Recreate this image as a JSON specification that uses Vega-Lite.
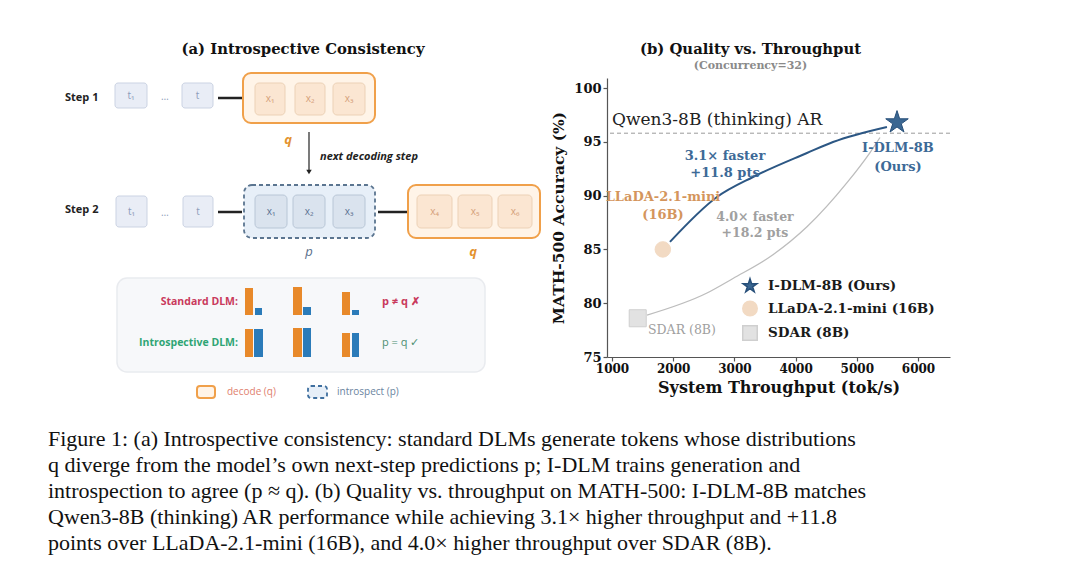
{
  "$schema": "https://vega.github.io/schema/vega-lite/v6.json",
  "background": "white",
  "padding": {"left": 30, "top": 42, "right": 20, "bottom": 10},
  "spacing": 27,
  "config": {
    "view": {"stroke": null},
    "axis": {"labelFont": "DejaVu Serif", "labelFontWeight": "bold", "labelColor": "#111", "labelFontSize": 13, "titleFont": "DejaVu Serif", "titleFontWeight": "bold", "titleFontSize": 15.5, "titleColor": "#111", "domainColor": "#555", "tickColor": "#555", "domainWidth": 1.2, "tickWidth": 1.2, "tickSize": 4, "grid": false, "labelPadding": 2},
    "axisX": {"labelFontSize": 12, "titlePadding": 5, "titleFontSize": 16},
    "axisY": {"titlePadding": 7}
  },
  "vconcat": [
    {
      "bounds": "flush",
      "spacing": 67,
      "hconcat": [
        {
          "width": 510,
          "height": 279,
          "encoding": {
            "x": {"field": "x", "type": "quantitative", "scale": {"domain": [0, 510], "nice": false, "zero": false}, "axis": null},
            "y": {"field": "y", "type": "quantitative", "scale": {"domain": [0, 279], "nice": false, "zero": false, "reverse": true}, "axis": null}
          },
          "layer": [
            {"data": {"values": [{"x": 87, "x2": 455, "y": 200, "y2": 294}]},
             "mark": {"type": "rect", "fill": "#f7f8fa", "stroke": "#e9ebef", "strokeWidth": 1.5, "cornerRadius": 10},
             "encoding": {"x2": {"field": "x2"}, "y2": {"field": "y2"}}},
            {"data": {"values": [{"x": 85, "x2": 117, "y": 5, "y2": 30}, {"x": 152, "x2": 183, "y": 5, "y2": 30}, {"x": 86, "x2": 117, "y": 118, "y2": 149}, {"x": 153, "x2": 183, "y": 118, "y2": 149}]},
             "mark": {"type": "rect", "fill": "#e9edf6", "stroke": "#cbd3e3", "cornerRadius": 3},
             "encoding": {"x2": {"field": "x2"}, "y2": {"field": "y2"}}},
            {"data": {"values": [{"x": 213, "x2": 345, "y": -5, "y2": 45}, {"x": 378, "x2": 510, "y": 107, "y2": 160}]},
             "mark": {"type": "rect", "fill": "#fff4e8", "stroke": "#f0a04a", "strokeWidth": 2, "cornerRadius": 8},
             "encoding": {"x2": {"field": "x2"}, "y2": {"field": "y2"}}},
            {"data": {"values": [{"x": 167, "x2": 185, "y": 308, "y2": 320}]},
             "mark": {"type": "rect", "fill": "#fff4e8", "stroke": "#f0a04a", "strokeWidth": 2, "cornerRadius": 3},
             "encoding": {"x2": {"field": "x2"}, "y2": {"field": "y2"}}},
            {"data": {"values": [{"x": 214, "x2": 345, "y": 107, "y2": 160}]},
             "mark": {"type": "rect", "fill": "#e7eff8", "stroke": "#5b7590", "strokeWidth": 1.8, "strokeDash": [4, 3], "cornerRadius": 8},
             "encoding": {"x2": {"field": "x2"}, "y2": {"field": "y2"}}},
            {"data": {"values": [{"x": 278, "x2": 297, "y": 308, "y2": 320}]},
             "mark": {"type": "rect", "fill": "#e7eff8", "stroke": "#3f6f9f", "strokeWidth": 1.8, "strokeDash": [4, 3], "cornerRadius": 3},
             "encoding": {"x2": {"field": "x2"}, "y2": {"field": "y2"}}},
            {"data": {"values": [{"x": 225, "x2": 255, "y": 5, "y2": 37}, {"x": 265, "x2": 295, "y": 5, "y2": 37}, {"x": 303, "x2": 335, "y": 5, "y2": 37}, {"x": 387, "x2": 422, "y": 117, "y2": 150}, {"x": 428, "x2": 462, "y": 117, "y2": 150}, {"x": 468, "x2": 502, "y": 117, "y2": 150}]},
             "mark": {"type": "rect", "fill": "#fbe6d2", "stroke": "#ecd1b6", "cornerRadius": 4},
             "encoding": {"x2": {"field": "x2"}, "y2": {"field": "y2"}}},
            {"data": {"values": [{"x": 225, "x2": 257, "y": 117, "y2": 150}, {"x": 263, "x2": 295, "y": 117, "y2": 150}, {"x": 303, "x2": 335, "y": 117, "y2": 150}]},
             "mark": {"type": "rect", "fill": "#dae3ee", "stroke": "#b8c6d6", "cornerRadius": 4},
             "encoding": {"x2": {"field": "x2"}, "y2": {"field": "y2"}}},
            {"data": {"values": [{"x": 188, "x2": 212, "y": 20}, {"x": 188, "x2": 212, "y": 134}, {"x": 348, "x2": 377, "y": 134}]},
             "mark": {"type": "rule", "color": "#222", "strokeWidth": 2.5},
             "encoding": {"x2": {"field": "x2"}}},
            {"data": {"values": [{"x": 279, "y": 54, "y2": 92}]},
             "mark": {"type": "rule", "color": "#222", "strokeWidth": 1.2},
             "encoding": {"y2": {"field": "y2"}}},
            {"data": {"values": [{"x": 279, "y": 94}]},
             "mark": {"type": "point", "shape": "triangle-down", "filled": true, "color": "#222", "size": 30, "opacity": 1}},
            {"data": {"values": [{"x": 215, "x2": 223, "y": 210, "y2": 237}, {"x": 263, "x2": 272, "y": 209, "y2": 237}, {"x": 312, "x2": 320, "y": 214, "y2": 237}, {"x": 215, "x2": 223, "y": 251, "y2": 279}, {"x": 263, "x2": 272, "y": 250, "y2": 279}, {"x": 312, "x2": 320, "y": 255, "y2": 279}]},
             "mark": {"type": "rect", "fill": "#e8892a"},
             "encoding": {"x2": {"field": "x2"}, "y2": {"field": "y2"}}},
            {"data": {"values": [{"x": 225, "x2": 232, "y": 230, "y2": 237}, {"x": 273, "x2": 281, "y": 229, "y2": 237}, {"x": 322, "x2": 329, "y": 232, "y2": 237}, {"x": 224, "x2": 233, "y": 251, "y2": 279}, {"x": 273, "x2": 281, "y": 250, "y2": 279}, {"x": 322, "x2": 329, "y": 255, "y2": 279}]},
             "mark": {"type": "rect", "fill": "#2b7bb9"},
             "encoding": {"x2": {"field": "x2"}, "y2": {"field": "y2"}}},
            {"data": {"values": [{"x": 35, "y": 20, "label": "Step 1"}, {"x": 35, "y": 132, "label": "Step 2"}]},
             "mark": {"type": "text", "align": "left", "baseline": "middle", "font": "Open Sans", "fontWeight": "bold", "fontSize": 11, "color": "#222"},
             "encoding": {"text": {"field": "label"}}},
            {"data": {"values": [{"x": 101, "y": 17.5, "label": "t₁"}, {"x": 135, "y": 19, "label": "…"}, {"x": 167.5, "y": 17.5, "label": "t"}, {"x": 101.5, "y": 133.5, "label": "t₁"}, {"x": 135, "y": 135, "label": "…"}, {"x": 168, "y": 133.5, "label": "t"}]},
             "mark": {"type": "text", "align": "center", "baseline": "middle", "font": "Open Sans", "fontSize": 10, "color": "#8d9cba"},
             "encoding": {"text": {"field": "label"}}},
            {"data": {"values": [{"x": 240, "y": 21, "label": "x₁"}, {"x": 280, "y": 21, "label": "x₂"}, {"x": 319, "y": 21, "label": "x₃"}, {"x": 404.5, "y": 133.5, "label": "x₄"}, {"x": 445, "y": 133.5, "label": "x₅"}, {"x": 485, "y": 133.5, "label": "x₆"}]},
             "mark": {"type": "text", "align": "center", "baseline": "middle", "font": "Open Sans", "fontSize": 10, "color": "#d5a07a"},
             "encoding": {"text": {"field": "label"}}},
            {"data": {"values": [{"x": 241, "y": 133.5, "label": "x₁"}, {"x": 279, "y": 133.5, "label": "x₂"}, {"x": 319, "y": 133.5, "label": "x₃"}]},
             "mark": {"type": "text", "align": "center", "baseline": "middle", "font": "Open Sans", "fontSize": 10, "color": "#5d7192"},
             "encoding": {"text": {"field": "label"}}},
            {"data": {"values": [{"x": 258, "y": 62, "label": "q"}, {"x": 443, "y": 174, "label": "q"}]},
             "mark": {"type": "text", "align": "center", "baseline": "middle", "font": "Open Sans", "fontStyle": "italic", "fontWeight": "bold", "fontSize": 13, "color": "#e3922e"},
             "encoding": {"text": {"field": "label"}}},
            {"data": {"values": [{"x": 279, "y": 174, "label": "p"}]},
             "mark": {"type": "text", "align": "center", "baseline": "middle", "font": "Open Sans", "fontStyle": "italic", "fontSize": 13, "color": "#5b6f8c"},
             "encoding": {"text": {"field": "label"}}},
            {"data": {"values": [{"x": 290, "y": 79, "label": "next decoding step"}]},
             "mark": {"type": "text", "align": "left", "baseline": "middle", "font": "Open Sans", "fontStyle": "italic", "fontWeight": "bold", "fontSize": 11, "color": "#222"},
             "encoding": {"text": {"field": "label"}}},
            {"data": {"values": [{"x": 208, "y": 224, "label": "Standard DLM:"}]},
             "mark": {"type": "text", "align": "right", "baseline": "middle", "font": "Open Sans", "fontWeight": "bold", "fontSize": 10.5, "color": "#c93a5c"},
             "encoding": {"text": {"field": "label"}}},
            {"data": {"values": [{"x": 208, "y": 265, "label": "Introspective DLM:"}]},
             "mark": {"type": "text", "align": "right", "baseline": "middle", "font": "Open Sans", "fontWeight": "bold", "fontSize": 10.5, "color": "#2fa574"},
             "encoding": {"text": {"field": "label"}}},
            {"data": {"values": [{"x": 352, "y": 224, "label": "p ≠ q   ✗"}]},
             "mark": {"type": "text", "align": "left", "baseline": "middle", "font": "Open Sans", "fontWeight": "bold", "fontSize": 11, "color": "#c93a5c"},
             "encoding": {"text": {"field": "label"}}},
            {"data": {"values": [{"x": 352, "y": 265, "label": "p = q   ✓"}]},
             "mark": {"type": "text", "align": "left", "baseline": "middle", "font": "Open Sans", "fontSize": 11, "color": "#4d8f72"},
             "encoding": {"text": {"field": "label"}}},
            {"data": {"values": [{"x": 197, "y": 314, "label": "decode (q)"}]},
             "mark": {"type": "text", "align": "left", "baseline": "middle", "font": "Open Sans", "fontSize": 10, "color": "#e0806e"},
             "encoding": {"text": {"field": "label"}}},
            {"data": {"values": [{"x": 307, "y": 314, "label": "introspect (p)"}]},
             "mark": {"type": "text", "align": "left", "baseline": "middle", "font": "Open Sans", "fontSize": 10, "color": "#6a84a0"},
             "encoding": {"text": {"field": "label"}}},
            {"data": {"values": [{"x": 273, "y": -28, "label": "(a) Introspective Consistency"}]},
             "mark": {"type": "text", "align": "center", "baseline": "middle", "font": "DejaVu Serif", "fontWeight": "bold", "fontSize": 14.8, "color": "#111"},
             "encoding": {"text": {"field": "label"}}}
          ]
        },
        {
          "width": 343,
          "height": 279,
          "title": {"text": "(b) Quality vs. Throughput", "subtitle": "(Concurrency=32)", "font": "DejaVu Serif", "fontSize": 14.8, "fontWeight": "bold", "color": "#111", "subtitleFont": "DejaVu Serif", "subtitleFontSize": 11, "subtitleFontWeight": "bold", "subtitleColor": "#8a8a8a", "subtitlePadding": 3, "offset": 7, "dx": -28, "anchor": "middle"},
          "layer": [
            {"data": {"values": [{"thr": 1000, "acc": 75}]},
             "mark": {"type": "point", "opacity": 0},
             "encoding": {
               "x": {"field": "thr", "type": "quantitative", "scale": {"domain": [918, 6523], "nice": false, "zero": false}, "axis": {"title": "System Throughput (tok/s)", "values": [1000, 2000, 3000, 4000, 5000, 6000], "format": "d"}},
               "y": {"field": "acc", "type": "quantitative", "scale": {"domain": [75, 100.93], "nice": false, "zero": false}, "axis": {"title": "MATH-500 Accuracy (%)", "values": [75, 80, 85, 90, 95, 100], "format": "d"}}
             }},
            {"data": {"values": [{"acc": 95.8}]},
             "mark": {"type": "rule", "color": "#9a9a9a", "strokeDash": [4, 3], "strokeWidth": 1},
             "encoding": {"y": {"field": "acc", "type": "quantitative", "scale": {"domain": [75, 100.93], "nice": false, "zero": false}}}},
            {"data": {"values": [{"thr": 1572, "acc": 78.9}, {"thr": 2552, "acc": 80.95}, {"thr": 2977, "acc": 82.3}, {"thr": 3630, "acc": 84.5}, {"thr": 4186, "acc": 87.1}, {"thr": 4840, "acc": 91.2}, {"thr": 5216, "acc": 94.0}, {"thr": 5379, "acc": 95.4}]},
             "mark": {"type": "line", "color": "#bdbdbd", "strokeWidth": 1.3, "interpolate": "monotone"},
             "encoding": {
               "x": {"field": "thr", "type": "quantitative", "scale": {"domain": [918, 6523], "nice": false, "zero": false}},
               "y": {"field": "acc", "type": "quantitative", "scale": {"domain": [75, 100.93], "nice": false, "zero": false}}
             }},
            {"data": {"values": [{"thr": 1947, "acc": 85.7}, {"thr": 2715, "acc": 89.87}, {"thr": 3304, "acc": 91.73}, {"thr": 4186, "acc": 93.96}, {"thr": 4611, "acc": 94.98}, {"thr": 5493, "acc": 96.38}]},
             "mark": {"type": "line", "color": "#2c5784", "strokeWidth": 2, "interpolate": "monotone"},
             "encoding": {
               "x": {"field": "thr", "type": "quantitative", "scale": {"domain": [918, 6523], "nice": false, "zero": false}},
               "y": {"field": "acc", "type": "quantitative", "scale": {"domain": [75, 100.93], "nice": false, "zero": false}}
             }},
            {"data": {"values": [{"model": "I-DLM-8B (Ours)", "series": "I-DLM-8B", "thr": 5657, "acc": 96.8}, {"model": "LLaDA-2.1-mini (16B)", "series": "LLaDA-2.1-mini", "thr": 1830, "acc": 85.0}, {"model": "SDAR (8B)", "series": "SDAR", "thr": 1420, "acc": 78.6}]},
             "mark": {"type": "point", "filled": true, "opacity": 1, "strokeWidth": 1},
             "encoding": {
               "x": {"field": "thr", "type": "quantitative", "scale": {"domain": [918, 6523], "nice": false, "zero": false}},
               "y": {"field": "acc", "type": "quantitative", "scale": {"domain": [75, 100.93], "nice": false, "zero": false}},
               "color": {"field": "model", "type": "nominal", "scale": {"domain": ["I-DLM-8B (Ours)", "LLaDA-2.1-mini (16B)", "SDAR (8B)"], "range": ["#3b6792", "#f2dac3", "#e2e2e2"]},
                 "legend": {"orient": "none", "legendX": 712, "legendY": 200, "title": null, "labelFont": "DejaVu Serif", "labelFontSize": 13.5, "labelFontWeight": "bold", "labelColor": "#1a1a1a", "labelLimit": 400, "symbolSize": 210, "rowPadding": 2.5, "padding": 0, "labelOffset": 10}},
               "shape": {"field": "model", "type": "nominal", "scale": {"domain": ["I-DLM-8B (Ours)", "LLaDA-2.1-mini (16B)", "SDAR (8B)"], "range": ["M0,-1L0.2245,-0.309L0.951,-0.309L0.363,0.118L0.588,0.809L0,0.382L-0.588,0.809L-0.363,0.118L-0.951,-0.309L-0.2245,-0.309Z", "circle", "square"]},
                 "legend": {"orient": "none", "legendX": 712, "legendY": 200, "title": null, "labelFont": "DejaVu Serif", "labelFontSize": 13.5, "labelFontWeight": "bold", "labelColor": "#1a1a1a", "labelLimit": 400, "symbolSize": 210, "rowPadding": 2.5, "padding": 0, "labelOffset": 10}},
               "stroke": {"field": "model", "type": "nominal", "scale": {"domain": ["I-DLM-8B (Ours)", "LLaDA-2.1-mini (16B)", "SDAR (8B)"], "range": ["#28507a", "#f2dac3", "#cfcfcf"]},
                 "legend": {"orient": "none", "legendX": 712, "legendY": 200, "title": null, "labelFont": "DejaVu Serif", "labelFontSize": 13.5, "labelFontWeight": "bold", "labelColor": "#1a1a1a", "labelLimit": 400, "symbolSize": 210, "rowPadding": 2.5, "padding": 0, "labelOffset": 10}},
               "size": {"field": "series", "type": "nominal", "scale": {"type": "ordinal", "domain": ["I-DLM-8B", "LLaDA-2.1-mini", "SDAR"], "range": [560, 240, 290]}, "legend": null}
             }},
            {"data": {"values": [{"label": "3.1× faster\n+11.8 pts", "thr": 2846, "acc": 93.68}]},
             "mark": {"type": "text", "align": "center", "baseline": "middle", "lineBreak": "\n", "lineHeight": 17, "font": "DejaVu Serif", "fontWeight": "bold", "fontSize": 13, "color": "#3d6a97"},
             "encoding": {
               "x": {"field": "thr", "type": "quantitative", "scale": {"domain": [918, 6523], "nice": false, "zero": false}},
               "y": {"field": "acc", "type": "quantitative", "scale": {"domain": [75, 100.93], "nice": false, "zero": false}},
               "text": {"field": "label"}
             }},
            {"data": {"values": [{"label": "I-DLM-8B\n(Ours)", "thr": 5673, "acc": 94.42}]},
             "mark": {"type": "text", "align": "center", "baseline": "middle", "lineBreak": "\n", "lineHeight": 19, "font": "DejaVu Serif", "fontWeight": "bold", "fontSize": 13, "color": "#3d6a97"},
             "encoding": {
               "x": {"field": "thr", "type": "quantitative", "scale": {"domain": [918, 6523], "nice": false, "zero": false}},
               "y": {"field": "acc", "type": "quantitative", "scale": {"domain": [75, 100.93], "nice": false, "zero": false}},
               "text": {"field": "label"}
             }},
            {"data": {"values": [{"label": "LLaDA-2.1-mini\n(16B)", "thr": 1833, "acc": 89.87}]},
             "mark": {"type": "text", "align": "center", "baseline": "middle", "lineBreak": "\n", "lineHeight": 18, "font": "DejaVu Serif", "fontWeight": "bold", "fontSize": 13, "color": "#d4955c"},
             "encoding": {
               "x": {"field": "thr", "type": "quantitative", "scale": {"domain": [918, 6523], "nice": false, "zero": false}},
               "y": {"field": "acc", "type": "quantitative", "scale": {"domain": [75, 100.93], "nice": false, "zero": false}},
               "text": {"field": "label"}
             }},
            {"data": {"values": [{"label": "4.0× faster\n+18.2 pts", "thr": 3336, "acc": 88.01}]},
             "mark": {"type": "text", "align": "center", "baseline": "middle", "lineBreak": "\n", "lineHeight": 16, "font": "DejaVu Serif", "fontWeight": "bold", "fontSize": 12.5, "color": "#a0a0a0"},
             "encoding": {
               "x": {"field": "thr", "type": "quantitative", "scale": {"domain": [918, 6523], "nice": false, "zero": false}},
               "y": {"field": "acc", "type": "quantitative", "scale": {"domain": [75, 100.93], "nice": false, "zero": false}},
               "text": {"field": "label"}
             }},
            {"data": {"values": [{"label": "SDAR (8B)", "thr": 2143, "acc": 77.5}]},
             "mark": {"type": "text", "align": "center", "baseline": "middle", "font": "DejaVu Serif", "fontSize": 12.5, "color": "#a0a0a0"},
             "encoding": {
               "x": {"field": "thr", "type": "quantitative", "scale": {"domain": [918, 6523], "nice": false, "zero": false}},
               "y": {"field": "acc", "type": "quantitative", "scale": {"domain": [75, 100.93], "nice": false, "zero": false}},
               "text": {"field": "label"}
             }},
            {"data": {"values": [{"label": "Qwen3-8B (thinking) AR", "thr": 1000, "acc": 97.0}]},
             "mark": {"type": "text", "align": "left", "baseline": "middle", "font": "DejaVu Serif", "fontSize": 17, "color": "#222"},
             "encoding": {
               "x": {"field": "thr", "type": "quantitative", "scale": {"domain": [918, 6523], "nice": false, "zero": false}},
               "y": {"field": "acc", "type": "quantitative", "scale": {"domain": [75, 100.93], "nice": false, "zero": false}},
               "text": {"field": "label"}
             }}
          ]
        }
      ]
    },
    {
      "width": 920,
      "height": 130,
      "data": {"values": [
        {"line": 1, "text": "Figure 1: (a) Introspective consistency: standard DLMs generate tokens whose distributions"},
        {"line": 2, "text": "q diverge from the model’s own next-step predictions p; I-DLM trains generation and"},
        {"line": 3, "text": "introspection to agree (p ≈ q). (b) Quality vs. throughput on MATH-500: I-DLM-8B matches"},
        {"line": 4, "text": "Qwen3-8B (thinking) AR performance while achieving 3.1× higher throughput and +11.8"},
        {"line": 5, "text": "points over LLaDA-2.1-mini (16B), and 4.0× higher throughput over SDAR (8B)."}
      ]},
      "mark": {"type": "text", "align": "left", "baseline": "middle", "font": "Liberation Serif", "fontSize": 22, "color": "#111", "dx": 18},
      "encoding": {
        "x": {"datum": 0, "type": "quantitative", "scale": {"domain": [0, 1]}, "axis": null},
        "y": {"field": "line", "type": "quantitative", "scale": {"domain": [0.5, 5.5], "reverse": true, "nice": false, "zero": false}, "axis": null},
        "text": {"field": "text"}
      }
    }
  ]
}
